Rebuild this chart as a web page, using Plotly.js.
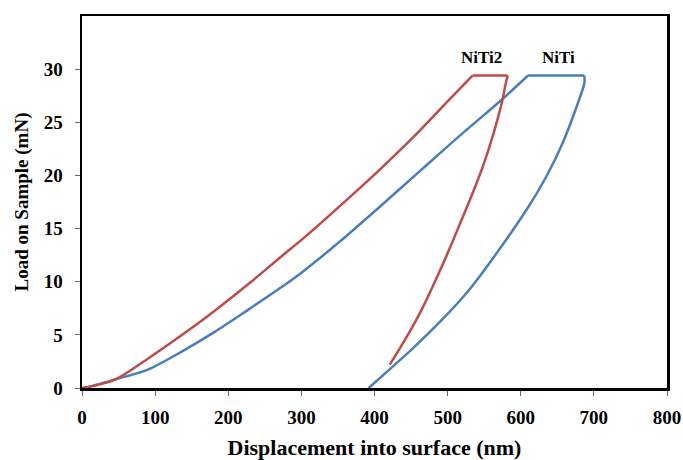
<!DOCTYPE html>
<html>
<head>
<meta charset="utf-8">
<script src="https://cdn.plot.ly/plotly-3.0.1.min.js"></script>
<style>html,body{margin:0;padding:0;background:#fff;}#chart{width:683px;height:460px;}</style>
</head>
<body>
<div id="chart"></div>
<script>
// NiTi (blue): loading, hold, unloading
const nitiX = [0, 9, 46, 91, 137, 182, 228, 273, 301, 353, 408, 462, 521, 572, 610, 687, 687, 675, 657, 635, 611, 564, 529, 492, 452, 410, 392];
const nitiY = [0, 0.1, 0.82, 1.76, 3.45, 5.3, 7.4, 9.5, 10.9, 13.8, 17.1, 20.4, 24.0, 27.0, 29.4, 29.4, 28.7, 26.2, 23.0, 19.9, 17.1, 12.4, 9.2, 6.4, 3.7, 1.1, 0];
// NiTi2 (red)
const niti2X = [0, 9, 46, 91, 137, 182, 228, 273, 303, 362, 408, 453, 499, 534, 582, 579, 575, 563, 548, 534, 519, 502, 484, 464, 444, 421];
const niti2Y = [0, 0.1, 0.82, 2.8, 5.0, 7.3, 9.8, 12.4, 14.1, 17.7, 20.6, 23.6, 26.9, 29.4, 29.4, 28.5, 27.1, 24.0, 20.8, 18.3, 15.8, 13.0, 10.2, 7.3, 4.8, 2.2];
// index of the start and end of the hold at peak load
const nitiHold = [14, 15];
const niti2Hold = [13, 14];
const xTicks = [0, 100, 200, 300, 400, 500, 600, 700, 800];
const yTicks = [0, 5, 10, 15, 20, 25, 30];
const labelNames = ['NiTi2', 'NiTi'];
const labelX = [547, 652];
const labelY = [31.1, 31.1];

const serif = 'Liberation Serif, Times New Roman, serif';
function segs(xs, ys, hold, color, name) {
  const a = hold[0], b = hold[1];
  const line = (shape) => ({color: color, width: 2.5, shape: shape, smoothing: 0.8});
  return [
    {x: xs.slice(0, a + 1), y: ys.slice(0, a + 1), mode: 'lines', name: name, line: line('spline')},
    {x: xs.slice(a, b + 1), y: ys.slice(a, b + 1), mode: 'lines', name: name, line: line('linear')},
    {x: xs.slice(b), y: ys.slice(b), mode: 'lines', name: name, line: line('spline')}
  ];
}
const traces = [].concat(
  segs(nitiX, nitiY, nitiHold, '#4A7EBB', 'NiTi'),
  segs(niti2X, niti2Y, niti2Hold, '#BE4B48', 'NiTi2')
);
const layout = {
  width: 683, height: 460,
  margin: {l: 82, r: 16, t: 16, b: 72},
  paper_bgcolor: '#fff', plot_bgcolor: '#fff',
  showlegend: false,
  font: {family: serif, color: '#000'},
  xaxis: {
    range: [0, 800], tickvals: xTicks, ticktext: xTicks.map(String),
    showgrid: false, zeroline: false,
    showline: true, mirror: true, linecolor: '#000', linewidth: 2.5,
    ticks: 'outside', ticklen: 5, tickwidth: 1, tickcolor: '#666',
    ticklabelstandoff: 6,
    tickfont: {family: serif, size: 19, weight: 'bold', color: '#000'},
    title: {text: 'Displacement into surface (nm)', font: {family: serif, size: 22, weight: 'bold', color: '#000'}, standoff: 20}
  },
  yaxis: {
    range: [0, 35], tickvals: yTicks, ticktext: yTicks.map(String),
    showgrid: false, zeroline: false,
    showline: true, mirror: true, linecolor: '#000', linewidth: 2.5,
    ticks: 'outside', ticklen: 5, tickwidth: 1, tickcolor: '#666',
    ticklabelstandoff: 8,
    tickfont: {family: serif, size: 19, weight: 'bold', color: '#000'},
    title: {text: 'Load on Sample (mN)', font: {family: serif, size: 19, weight: 'bold', color: '#000'}, standoff: 10}
  },
  annotations: labelNames.map((t, i) => ({
    x: labelX[i], y: labelY[i], xref: 'x', yref: 'y', text: t, showarrow: false,
    font: {family: serif, size: 17, weight: 'bold', color: '#000'}
  }))
};
Plotly.newPlot('chart', traces, layout, {displayModeBar: false, staticPlot: true});
</script>
</body>
</html>
